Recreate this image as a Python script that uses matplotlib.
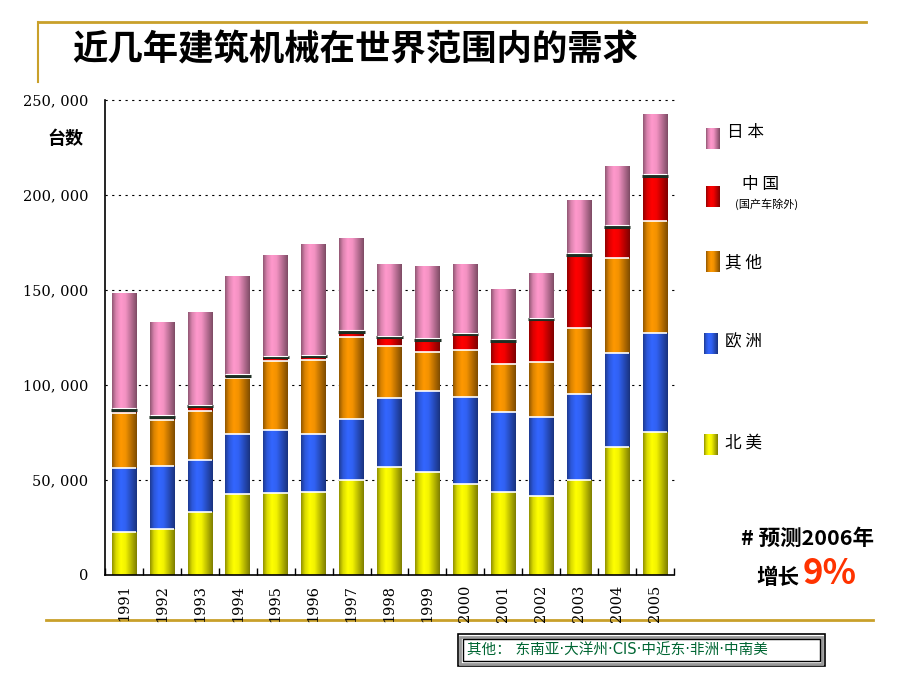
import matplotlib
matplotlib.use("Agg")
import matplotlib.pyplot as plt
import numpy as np
from matplotlib.ticker import FuncFormatter, FixedLocator

plt.rcParams["font.family"] = ["Noto Sans CJK SC", "DejaVu Sans"]

years = [str(y) for y in range(1991, 2006)]
north_america = [22500, 24400, 33000, 42500, 43000, 43900, 49800, 56700,
                 54000, 47700, 43500, 41600, 50200, 67200, 75100]
europe = [33700, 32800, 27400, 31900, 33150, 30200, 32100, 36300,
          42950, 45800, 42100, 41400, 44950, 49500, 52100]
others = [29250, 24200, 25750, 29100, 36450, 38950, 43150, 27500,
          20200, 24750, 25300, 28950, 34750, 50000, 58950]
china = [1400, 1800, 2650, 1400, 2000, 2100, 2900, 4600,
         6500, 8450, 12250, 22600, 38750, 16600, 24050]
japan = [61100, 49800, 49250, 52500, 53300, 58600, 49400, 38100,
         38900, 36500, 26850, 23850, 28800, 32000, 32400]

series = [("北 美", north_america, "#FFFF00"),
          ("欧 洲", europe, "#3366FF"),
          ("其 他", others, "#FF9900"),
          ("中 国", china, "#FF0000"),
          ("日 本", japan, "#FF99CC")]

GOLD = "#C9A02A"
PROFILE_T = [0, 0.15, 0.35, 0.55, 0.8, 1]
PROFILE_F = [0.58, 0.85, 1.0, 0.95, 0.7, 0.5]


def shaded(color, n=40):
    """1 x n RGB strip with cylinder-like shading."""
    rgb = np.array(matplotlib.colors.to_rgb(color))
    f = np.interp(np.linspace(0, 1, n), PROFILE_T, PROFILE_F)
    return (f[:, None] * rgb[None, :])[None, :, :]


def fill_gradient(ax, rect, color, zorder=2):
    x0, y0 = rect.get_x(), rect.get_y()
    ax.imshow(shaded(color), extent=(x0, x0 + rect.get_width(), y0, y0 + rect.get_height()),
              aspect="auto", interpolation="bilinear", zorder=zorder)


fig = plt.figure(figsize=(9.2, 6.9), dpi=100)

# overlay in pixel coordinates for decorations and legend
over = fig.add_axes([0, 0, 1, 1], zorder=0)
over.set_xlim(0, 920)
over.set_ylim(690, 0)
over.axis("off")

ax = fig.add_axes([105 / 920, 115 / 690, 569 / 920, 475 / 690], zorder=1)
ax.set_facecolor("none")

x = np.arange(len(years))
width = 0.65
bottom = np.zeros(len(years))
tops = {}
for name, vals, color in series:
    bars = ax.bar(x, vals, width, bottom=bottom, color="none", edgecolor="none")
    for rect in bars:
        fill_gradient(ax, rect, color)
    bottom = bottom + np.array(vals)
    tops[name] = bottom.copy()

for name in ["北 美", "欧 洲", "其 他"]:
    ax.hlines(tops[name], x - width / 2, x + width / 2, color="white", lw=1.2, zorder=3)
ax.hlines(tops["中 国"], x - width / 2 - 0.02, x + width / 2 + 0.02, color="#1c2e22", lw=2.2, zorder=3)
ax.hlines(tops["中 国"] + 900, x - width / 2, x + width / 2, color="white", lw=0.8, zorder=3)

ax.set_xlim(-0.5, len(years) - 0.5)
ax.set_ylim(0, 250000)
ax.yaxis.set_major_locator(FixedLocator(range(0, 250001, 50000)))
ax.yaxis.set_major_formatter(FuncFormatter(lambda v, p: f"{int(v):,}".replace(",", ", ")))
for v in range(50000, 250001, 50000):
    ax.axhline(v, color="black", lw=0.8, ls=(0, (2, 4)), zorder=1, clip_on=False)
ax.tick_params(axis="y", length=0, pad=12, labelsize=10.5)
for lab in ax.get_yticklabels():
    lab.set_family("DejaVu Serif")

ax.set_xticks(x)
ax.set_xticklabels(years, rotation=90, family="DejaVu Serif", fontsize=10.5)
ax.tick_params(axis="x", length=0, pad=7)
ax.set_xticks(np.arange(-0.5, len(years)), minor=True)
ax.tick_params(axis="x", which="minor", direction="in", length=5, width=1)

for s in ["top", "right"]:
    ax.spines[s].set_visible(False)
ax.spines["left"].set_linewidth(1.2)
ax.spines["bottom"].set_linewidth(1.2)

# page decorations
over.plot([38, 866], [22, 22], color=GOLD, lw=2)
over.plot([38, 38], [22, 82], color=GOLD, lw=1.5)
over.plot([46, 873], [620, 620], color=GOLD, lw=2)
over.text(72, 50, "近几年建筑机械在世界范围内的需求", fontsize=25.5, fontweight="bold",
          va="center", ha="left")
over.text(65, 139, "台数", fontsize=13, fontweight="bold", ha="center", va="center")

# legend
legend_rows = [("日 本", "#FF99CC", 706, 128, 727, 132),
               ("中 国", "#FF0000", 706, 186, 742, 184),
               ("其 他", "#FF9900", 706, 251, 725, 263),
               ("欧 洲", "#3366FF", 704, 333, 725, 342),
               ("北 美", "#FFFF00", 704, 434, 725, 443)]
for label, color, px, py, tx, ty in legend_rows:
    over.imshow(shaded(color), extent=(px, px + 14, py + 21, py), aspect="auto",
                interpolation="bilinear", zorder=2)
    over.text(tx, ty, label, fontsize=12, ha="left", va="center")
over.text(735, 204, "(国产车除外)", fontsize=8, ha="left", va="center")
over.set_xlim(0, 920)
over.set_ylim(690, 0)

over.text(808, 538, "# 预测2006年", fontsize=15.5, fontweight="bold", ha="center", va="center")
over.text(778, 578, "增长", fontsize=15.5, fontweight="bold", ha="center", va="center")
over.text(830, 574, "9%", fontsize=25, fontweight="bold", color="#FF3300",
          ha="center", va="center")

# note box with double border
over.add_patch(plt.Rectangle((458, 634), 367, 32, fill=False, ec="black", lw=1.2))
over.add_patch(plt.Rectangle((460.5, 636.5), 362, 27, fill=False, ec="#999999", lw=2))
over.add_patch(plt.Rectangle((463, 639), 357, 22, fill=False, ec="black", lw=1))
over.text(467, 650, "其他： 东南亚·大洋州·CIS·中近东·非洲·中南美", fontsize=10.5,
          family=["DejaVu Sans", "Noto Sans CJK SC"],
          color="#006633", ha="left", va="center")

fig.savefig("out.png", dpi=100)
